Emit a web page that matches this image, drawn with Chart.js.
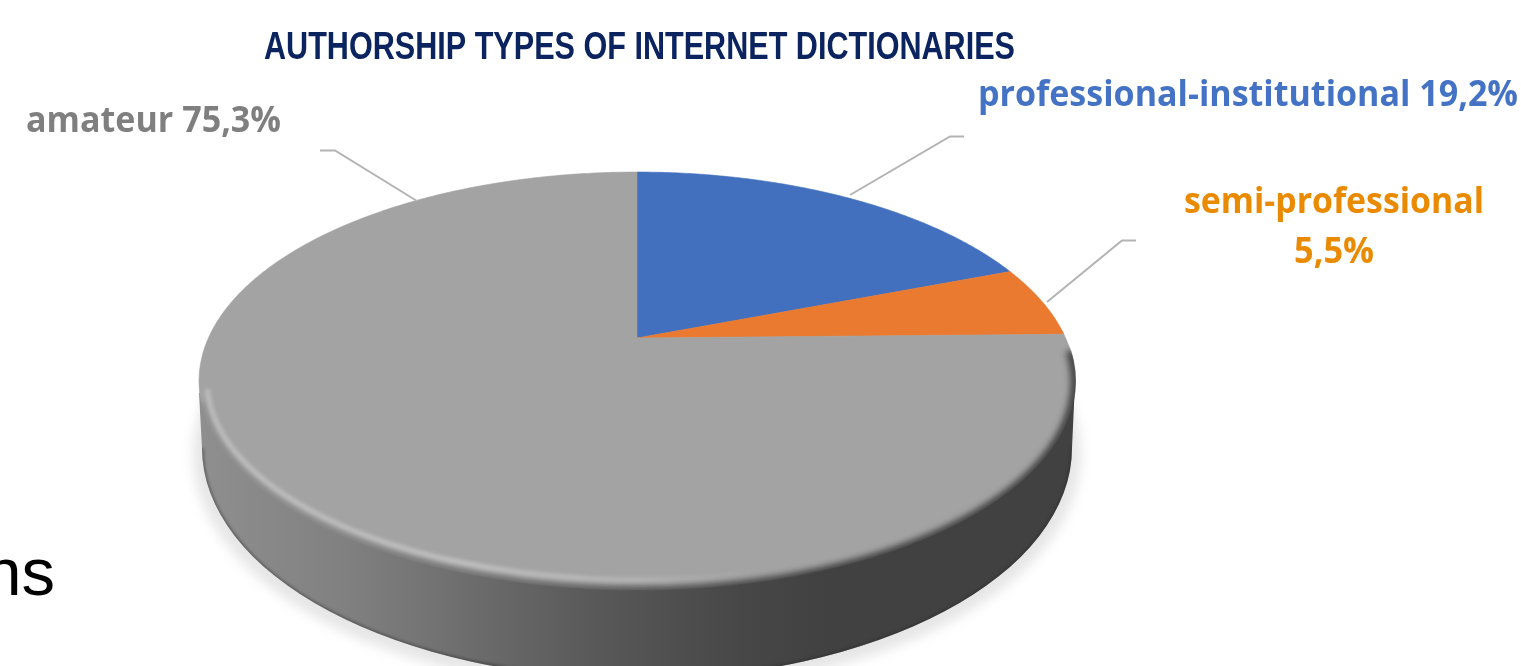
<!DOCTYPE html>
<html>
<head>
<meta charset="utf-8">
<title>Authorship types of internet dictionaries</title>
<script src="https://cdn.jsdelivr.net/npm/chart.js@4"></script>
<style>
    html, body { margin: 0; padding: 0; background: #fff; overflow: hidden; }
    canvas { display: block; }
</style>
</head>
<body>
<canvas id="authorship" width="1521" height="666"></canvas>
<script>
const chartTitle = "AUTHORSHIP TYPES OF INTERNET DICTIONARIES";
const categories = ["professional-institutional", "semi-professional", "amateur"];
const shares = [19.2, 5.5, 75.3];
const sliceColors = ["#4270bf", "#e97a30", "#a3a3a3"];
const labelColors = ["#4472c4", "#e98a00", "#7f7f7f"];

// disc top seen in perspective: the slices meet at (cx, cy), k is the foreshortening
const disc = { cx: 637, cy: 338, a: 428.6, b: 200.1, k: 0.2057 };
const rim = { x: 637, y: 381, rx: 438, ry: 209 };
const base = { x: 637, y: 448, rx: 435, ry: 231 };

function project(t) {
    const w = 1 - disc.k * Math.sin(t);
    return [disc.cx + disc.a * Math.cos(t) / w, disc.cy + disc.b * Math.sin(t) / w];
}

function percent(v) {
    return v.toFixed(1).replace(".", ",") + "%";
}

function wallGradient(ctx) {
    const wall = ctx.createLinearGradient(198, 0, 1075, 0);
    wall.addColorStop(0, "#8f8f8f");
    wall.addColorStop(0.17, "#808080");
    wall.addColorStop(0.3, "#6e6e6e");
    wall.addColorStop(0.45, "#595959");
    wall.addColorStop(0.62, "#474747");
    wall.addColorStop(0.72, "#414141");
    wall.addColorStop(1, "#414141");
    return wall;
}

function drawWall(ctx) {
    // soft shadow on the floor
    ctx.save();
    ctx.filter = "blur(6px)";
    ctx.fillStyle = "#e6e6e6";
    ctx.beginPath();
    ctx.ellipse(base.x, base.y + 6, base.rx + 9, base.ry + 6, 0, 0, Math.PI * 2);
    ctx.fill();
    ctx.restore();

    ctx.save();
    ctx.beginPath();
    ctx.ellipse(base.x, base.y, base.rx, base.ry, 0, 0, Math.PI);
    ctx.lineTo(rim.x - rim.rx, rim.y + 12);
    ctx.lineTo(rim.x, rim.y);
    ctx.lineTo(rim.x + rim.rx, rim.y + 2);
    ctx.closePath();
    ctx.fillStyle = wallGradient(ctx);
    ctx.fill();
    ctx.clip();

    // darker lip along the floor edge
    ctx.filter = "blur(1.5px)";
    ctx.strokeStyle = "rgba(40,40,40,0.5)";
    ctx.lineWidth = 3;
    ctx.beginPath();
    ctx.ellipse(base.x, base.y, base.rx, base.ry, 0, 0, Math.PI);
    ctx.stroke();
    ctx.restore();
}

function drawBevel(ctx) {
    const shine = ctx.createLinearGradient(198, 0, 1075, 0);
    shine.addColorStop(0, "rgba(200,200,200,0.9)");
    shine.addColorStop(0.3, "rgba(205,205,205,0.9)");
    shine.addColorStop(0.5, "rgba(195,195,195,0.7)");
    shine.addColorStop(0.66, "rgba(180,180,180,0)");
    shine.addColorStop(1, "rgba(180,180,180,0)");

    ctx.save();
    ctx.beginPath();
    ctx.ellipse(rim.x, rim.y, rim.rx + 1, rim.ry + 1, 0, 0, Math.PI * 2);
    ctx.clip();

    // the edge melts into the wall colour
    ctx.filter = "blur(3px)";
    ctx.strokeStyle = wallGradient(ctx);
    ctx.lineWidth = 9;
    ctx.beginPath();
    ctx.ellipse(rim.x, rim.y + 1, rim.rx, rim.ry, 0, -0.15, Math.PI - 0.1);
    ctx.stroke();

    ctx.filter = "blur(2px)";
    ctx.strokeStyle = shine;
    ctx.lineWidth = 4;
    ctx.beginPath();
    ctx.ellipse(rim.x, rim.y, rim.rx - 8, rim.ry - 10, 0, 0.1, Math.PI - 0.04);
    ctx.stroke();
    ctx.restore();
}

// Chart.js works out the slice angles, they are only traced through the perspective here
const tiltedPie = {
    id: "tiltedPie",
    beforeDatasetDraw(chart) {
        const ctx = chart.ctx;
        drawWall(ctx);
        chart.getDatasetMeta(0).data.forEach(function (arc) {
            const color = arc.options.backgroundColor;
            ctx.beginPath();
            ctx.moveTo(disc.cx, disc.cy);
            const steps = Math.ceil((arc.endAngle - arc.startAngle) / 0.01);
            for (let i = 0; i <= steps; i++) {
                const p = project(arc.startAngle + (arc.endAngle - arc.startAngle) * i / steps);
                ctx.lineTo(p[0], p[1]);
            }
            ctx.closePath();
            ctx.fillStyle = color;
            ctx.strokeStyle = color;
            ctx.lineWidth = 0.6;
            ctx.fill();
            ctx.stroke();
        });
        drawBevel(ctx);
        return false;
    }
};

const textLayer = {
    id: "textLayer",
    afterDraw(chart) {
        const ctx = chart.ctx;
        ctx.save();

        // leader lines
        ctx.strokeStyle = "#b3b3b3";
        ctx.lineWidth = 2;
        [
            [[320, 150.5], [335, 150.5], [417, 201]],
            [[964, 136.5], [950, 136.5], [850, 195]],
            [[1136, 240.5], [1122, 240.5], [1047, 302]],
        ].forEach(function (line) {
            ctx.beginPath();
            ctx.moveTo(line[0][0], line[0][1]);
            ctx.lineTo(line[1][0], line[1][1]);
            ctx.lineTo(line[2][0], line[2][1]);
            ctx.stroke();
        });

        ctx.textBaseline = "alphabetic";
        ctx.textAlign = "left";

        // fillText's width argument squeezes the wide fonts to the wanted run
        ctx.font = "bold 38px 'Liberation Sans'";
        ctx.fillStyle = "#0b2460";
        ctx.fillText(chartTitle, 264, 59, 751);

        ctx.font = "bold 35px 'Open Sans'";
        ctx.fillStyle = labelColors[0];
        ctx.fillText(categories[0] + " " + percent(shares[0]), 978, 106, 540);
        ctx.fillStyle = labelColors[1];
        ctx.fillText(categories[1], 1184, 213, 300);
        ctx.fillText(percent(shares[1]), 1294, 263, 80);
        ctx.fillStyle = labelColors[2];
        ctx.fillText(categories[2] + " " + percent(shares[2]), 26, 132, 255);

        // tail of a caption running in from the left edge
        ctx.font = "67px 'Liberation Sans'";
        ctx.fillStyle = "#000";
        ctx.textAlign = "right";
        ctx.fillText("ns", 55, 595);
        ctx.restore();
    }
};

new Chart(document.getElementById("authorship"), {
    type: "pie",
    data: {
        labels: categories,
        datasets: [{
            data: shares,
            backgroundColor: sliceColors,
            borderWidth: 0,
        }],
    },
    options: {
        responsive: false,
        animation: false,
        plugins: {
            legend: { display: false },
            tooltip: { enabled: false },
        },
    },
    plugins: [tiltedPie, textLayer],
});
</script>
</body>
</html>
